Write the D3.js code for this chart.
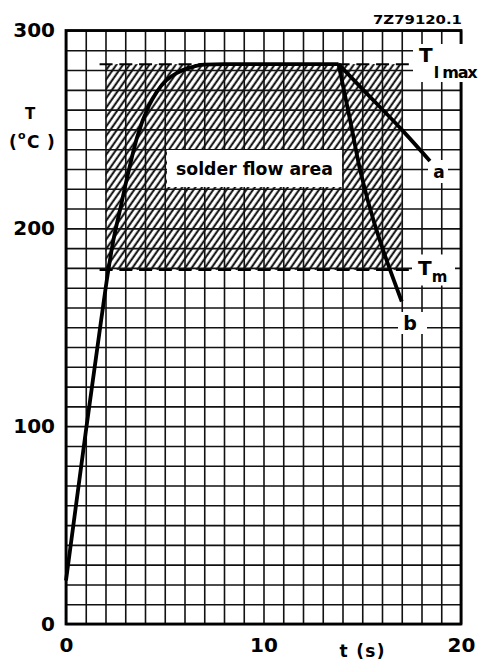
<!DOCTYPE html>
<html>
<head>
<meta charset="utf-8">
<script src="https://cdn.jsdelivr.net/npm/d3@7"></script>
<style>
body { margin: 0; background: #fff; }
svg { display: block; font-family: "DejaVu Sans", sans-serif; font-weight: bold; }
.grid line { stroke: #111; stroke-width: 1.6; }
.grid .domain { display: none; }
.ticks .domain { display: none; }
.ticks text { font-size: 20px; fill: #000; font-family: "DejaVu Sans", sans-serif; font-weight: bold; }
</style>
</head>
<body>
<div class="container"></div>
<script>
// soldering profile, time in s, temperature in degC
var riseTime = [0, 1, 1.8, 2.1, 2.4, 2.75, 3.15, 3.6, 4.2, 4.6, 5.1, 5.6, 6.2, 7, 8, 13.8];
var riseTemp = [22, 97, 155, 176, 194, 210, 228, 246, 262, 269, 275, 278.5, 281, 282.8, 283, 283];
var aTime = [13.8, 15.05, 17.08, 18.43];
var aTemp = [283, 270, 249, 234];
var bTime = [13.8, 14.4, 14.95, 15.6, 16.3, 17.0];
var bTemp = [283, 254, 227, 203, 182, 163];

var tlMax = 283;
var tM = 179;
var areaTime = [2, 17];
var dashTime = [1.7, 17.6];

var xTicks = [0, 10, 20];
var yTicks = [0, 100, 200, 300];

var width = 481, height = 662;
var margin = {left: 66, right: 20, top: 30.5, bottom: 38};
var w = width - margin.left - margin.right;
var h = height - margin.top - margin.bottom;

var x = d3.scaleLinear().domain([0, 20]).range([0, w]);
var y = d3.scaleLinear().domain([0, 300]).range([h, 0]);

var svg = d3.select(".container").append("svg")
    .attr("width", width)
    .attr("height", height);

svg.append("rect").attr("width", width).attr("height", height).attr("fill", "#fff");

var defs = svg.append("defs");
var pat = defs.append("pattern")
    .attr("id", "hatch")
    .attr("patternUnits", "userSpaceOnUse")
    .attr("width", 5.4)
    .attr("height", 10)
    .attr("patternTransform", "rotate(35)");
pat.append("line")
    .attr("x1", 1.5).attr("x2", 1.5)
    .attr("y1", 0).attr("y2", 10)
    .attr("stroke", "#000")
    .attr("stroke-width", 1.9);

var g = svg.append("g")
    .attr("transform", "translate(" + margin.left + "," + margin.top + ")");

// hatched solder flow area
g.append("rect")
    .attr("x", x(areaTime[0]))
    .attr("y", y(tlMax))
    .attr("width", x(areaTime[1]) - x(areaTime[0]))
    .attr("height", y(tM) - y(tlMax))
    .attr("fill", "url(#hatch)");

// grid
g.append("g")
    .attr("class", "grid")
    .attr("transform", "translate(0," + h + ")")
    .call(d3.axisBottom(x).tickValues(d3.range(0, 21)).tickSize(-h).tickFormat(""));
g.append("g")
    .attr("class", "grid")
    .call(d3.axisLeft(y).tickValues(d3.range(0, 301, 10)).tickSize(-w).tickFormat(""));

// frame
g.append("rect")
    .attr("width", w)
    .attr("height", h)
    .attr("fill", "none")
    .attr("stroke", "#000")
    .attr("stroke-width", 2.8);

// dashed limits
[tlMax, tM].forEach(function (t) {
    g.append("line")
        .attr("x1", x(dashTime[0]))
        .attr("x2", x(dashTime[1]))
        .attr("y1", y(t))
        .attr("y2", y(t))
        .attr("stroke", "#000")
        .attr("stroke-width", 2)
        .attr("stroke-dasharray", "13,6.75");
});

// label box in the area
g.append("rect")
    .attr("x", 101).attr("y", 119.5)
    .attr("width", 175).attr("height", 37)
    .attr("fill", "#fff");
g.append("text")
    .attr("x", 188.5).attr("y", 144.5)
    .attr("text-anchor", "middle")
    .attr("font-size", 17)
    .attr("textLength", 157)
    .attr("lengthAdjust", "spacingAndGlyphs")
    .text("solder flow area");

// white boxes behind right labels
var boxes = [[347, 13.5, 68, 38], [362, 129.5, 20, 23], [346, 224, 43, 31], [332, 281.5, 29, 22]];
boxes.forEach(function (b) {
    g.append("rect")
        .attr("x", b[0]).attr("y", b[1])
        .attr("width", b[2]).attr("height", b[3])
        .attr("fill", "#fff");
});

// curves
var line = d3.line()
    .x(function (d) { return x(d[0]); })
    .y(function (d) { return y(d[1]); })
    .curve(d3.curveMonotoneX);

function pairs(ts, vs) {
    return ts.map(function (t, i) { return [t, vs[i]]; });
}

[pairs(riseTime, riseTemp), pairs(aTime, aTemp)].forEach(function (d) {
    g.append("path")
        .attr("d", line(d))
        .attr("fill", "none")
        .attr("stroke", "#000")
        .attr("stroke-width", 3.8)
        .attr("stroke-linejoin", "round");
});
g.append("path")
    .attr("d", d3.line()
        .x(function (d) { return x(d[0]); })
        .y(function (d) { return y(d[1]); })
        .curve(d3.curveMonotoneY)(pairs(bTime, bTemp)))
    .attr("fill", "none")
    .attr("stroke", "#000")
    .attr("stroke-width", 3.8);

// axes labels
var yAxis = g.append("g")
    .attr("class", "ticks")
    .call(d3.axisLeft(y).tickValues(yTicks).tickSize(0).tickPadding(11));
var xAxis = g.append("g")
    .attr("class", "ticks")
    .attr("transform", "translate(0," + h + ")")
    .call(d3.axisBottom(x).tickValues(xTicks).tickSize(0).tickPadding(14));

svg.append("text")
    .attr("x", 362).attr("y", 657)
    .attr("text-anchor", "middle")
    .attr("font-size", 17)
    .attr("textLength", 45)
    .text("t (s)");

svg.append("text")
    .attr("x", 30).attr("y", 118.5)
    .attr("text-anchor", "middle")
    .attr("font-size", 15)
    .text("T");
var deg = svg.append("g").attr("font-size", 17);
deg.append("text").attr("x", 9).attr("y", 148).text("(");
deg.append("text").attr("x", 18).attr("y", 139).attr("font-size", 11).text("o");
deg.append("text").attr("x", 27).attr("y", 148).text("C");
deg.append("text").attr("x", 47).attr("y", 148).text(")");

svg.append("text")
    .attr("x", 462).attr("y", 24)
    .attr("text-anchor", "end")
    .attr("font-size", 12)
    .attr("textLength", 89)
    .attr("lengthAdjust", "spacingAndGlyphs")
    .text("7Z79120.1");

var tl = svg.append("text").attr("x", 419).attr("y", 62).attr("font-size", 20);
tl.append("tspan").text("T");
tl.append("tspan").attr("font-size", 16).attr("dy", 16).attr("dx", 1)
    .attr("textLength", 44).text("l max");

var tm = svg.append("text").attr("x", 418).attr("y", 275).attr("font-size", 20);
tm.append("tspan").text("T");
tm.append("tspan").attr("font-size", 15).attr("dy", 7).text("m");

svg.append("text")
    .attr("x", 439).attr("y", 178)
    .attr("text-anchor", "middle")
    .attr("font-size", 17)
    .text("a");
svg.append("text")
    .attr("x", 410).attr("y", 330)
    .attr("text-anchor", "middle")
    .attr("font-size", 19)
    .text("b");
</script>
</body>
</html>
